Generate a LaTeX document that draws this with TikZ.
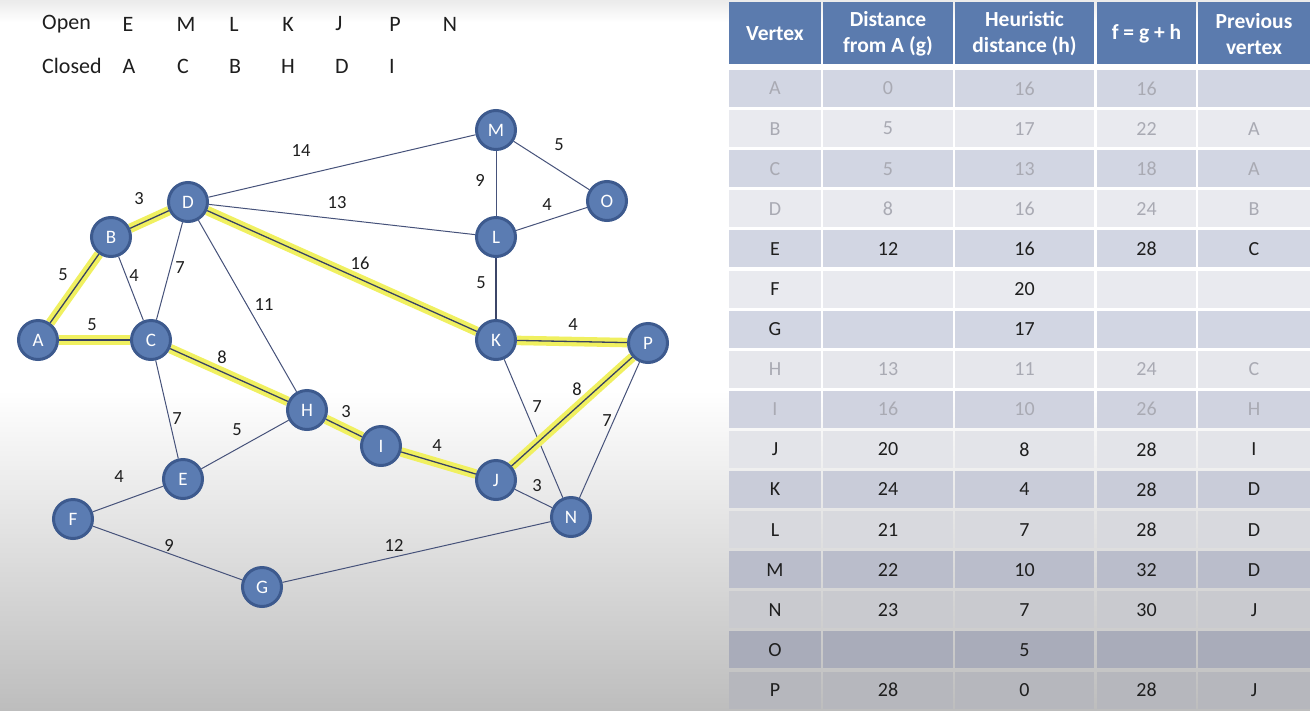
\documentclass[tikz,border=0pt]{standalone}
\usepackage{fontspec}
\setmainfont{Carlito}
\definecolor{nodefill}{HTML}{5B7CB2}
\definecolor{nodeline}{HTML}{3D5A8E}
\definecolor{edgecol}{HTML}{46527A}
\definecolor{hlyellow}{HTML}{F0F060}
\definecolor{headfill}{HTML}{5B7BAE}
\definecolor{graybot}{HTML}{BDBDBD}
\definecolor{txtdark}{HTML}{1E1E1E}
\definecolor{txtgray}{HTML}{A9AAB3}
\pgfdeclarelayer{bglayer}
\pgfdeclarelayer{edgelayer}
\pgfsetlayers{bglayer,edgelayer,main}
\newcommand{\tabrow}[8]{%
  \definecolor{rowfill}{HTML}{#7}%
  \pgfmathsetmacro{\rowtop}{70+40.1*#1}%
  \pgfmathsetmacro{\rowbot}{\rowtop+37}%
  \pgfmathsetmacro{\rowmid}{\rowtop+18.5}%
  \fill[rowfill] (729,\rowtop) rectangle (821,\rowbot);
  \fill[rowfill] (823,\rowtop) rectangle (953,\rowbot);
  \fill[rowfill] (955,\rowtop) rectangle (1094,\rowbot);
  \fill[rowfill] (1097,\rowtop) rectangle (1196,\rowbot);
  \fill[rowfill] (1198,\rowtop) rectangle (1310,\rowbot);
  \node[cell,text=#8] (tv#2) at (775,\rowmid) {#2};
  \node[cell,text=#8] (tg#2) at (888,\rowmid) {#3};
  \node[cell,text=#8] (th#2) at (1024.5,\rowmid) {#4};
  \node[cell,text=#8] (tf#2) at (1146.5,\rowmid) {#5};
  \node[cell,text=#8] (tp#2) at (1254,\rowmid) {#6};
}
\begin{document}
\begin{tikzpicture}[x=1pt,y=-1pt,
  vtx/.style={circle,minimum size=39pt,inner sep=0pt,fill=nodefill,draw=nodeline,line width=3pt,text=white,font=\fontsize{19}{19}\selectfont},
  plain/.style={draw=edgecol,line width=1pt},
  hl/.style={draw=edgecol!80!black,line width=1.3pt,preaction={draw=hlyellow,line width=9.5pt}},
  lbl/.style={inner sep=0pt,text=txtdark,font=\fontsize{18.5}{18.5}\selectfont},
  toptxt/.style={inner sep=0pt,text=txtdark,font=\fontsize{22}{22}\selectfont},
  cell/.style={inner sep=0pt,font=\fontsize{20}{20}\selectfont},
  head/.style={inner sep=0pt,text=white,align=center,font=\bfseries\fontsize{21.5}{26}\selectfont}]
\useasboundingbox (0,0) rectangle (1310,710);
\begin{pgfonlayer}{bglayer}
\fill[white] (0,0) rectangle (1310,710);
\shade[top color=white,bottom color=graybot] (0,390) rectangle (1310,710);
\shade[top color=black!8,bottom color=white] (0,0) rectangle (1310,22);
\end{pgfonlayer}
% open / closed lists
\node[toptxt,anchor=west] (open) at (42,24) {Open};
\node[toptxt] (o1) at (128,24) {E};
\node[toptxt] (o2) at (186,24) {M};
\node[toptxt] (o3) at (234,24) {L};
\node[toptxt] (o4) at (288,24) {K};
\node[toptxt] (o5) at (339,24) {J};
\node[toptxt] (o6) at (395,24) {P};
\node[toptxt] (o7) at (450,24) {N};
\node[toptxt,anchor=west] (closed) at (42,66) {Closed};
\node[toptxt] (c1) at (129,66) {A};
\node[toptxt] (c2) at (183,66) {C};
\node[toptxt] (c3) at (235,66) {B};
\node[toptxt] (c4) at (288,66) {H};
\node[toptxt] (c5) at (342,66) {D};
\node[toptxt] (c6) at (392,66) {I};
% vertices
\node[vtx] (A) at (38,340) {A};
\node[vtx] (B) at (111,237) {B};
\node[vtx] (C) at (151,340) {C};
\node[vtx] (D) at (188,202) {D};
\node[vtx] (E) at (183,479) {E};
\node[vtx] (F) at (73,519) {F};
\node[vtx] (G) at (262,587) {G};
\node[vtx] (H) at (307,410) {H};
\node[vtx] (I) at (381,446) {I};
\node[vtx] (J) at (496,480) {J};
\node[vtx] (K) at (496,340) {K};
\node[vtx] (L) at (496,237) {L};
\node[vtx] (M) at (496,130) {M};
\node[vtx] (N) at (571,517) {N};
\node[vtx] (O) at (607,201) {O};
\node[vtx] (P) at (648,343) {P};
% edges
\begin{pgfonlayer}{edgelayer}
\draw[plain] (D) -- (M);
\draw[plain] (D) -- (L);
\draw[plain] (M) -- (L);
\draw[plain] (M) -- (O);
\draw[plain] (L) -- (O);
\draw[plain,line width=1.6pt,draw=edgecol!85!black] (L) -- (K);
\draw[plain] (B) -- (C);
\draw[plain] (D) -- (C);
\draw[plain] (D) -- (H);
\draw[plain] (C) -- (E);
\draw[plain] (E) -- (H);
\draw[plain] (E) -- (F);
\draw[plain] (F) -- (G);
\draw[plain] (G) -- (N);
\draw[plain] (K) -- (N);
\draw[plain] (P) -- (N);
\draw[plain] (J) -- (N);
\draw[hl] (A) -- (B);
\draw[hl] (B) -- (D);
\draw[hl] (A) -- (C);
\draw[hl] (C) -- (H);
\draw[hl] (D) -- (K);
\draw[hl] (H) -- (I);
\draw[hl] (I) -- (J);
\draw[hl] (J) -- (P);
\draw[hl] (K) -- (P);
\end{pgfonlayer}
% edge weights
\node[lbl] (wBD) at (139,199) {3};
\node[lbl] (wDM) at (301,151) {14};
\node[lbl] (wMO) at (559,145) {5};
\node[lbl] (wML) at (480,180) {9};
\node[lbl] (wDL) at (337,203) {13};
\node[lbl] (wLO) at (547,205) {4};
\node[lbl] (wDK) at (360,263) {16};
\node[lbl] (wAB) at (63,275) {5};
\node[lbl] (wBC) at (134,276) {4};
\node[lbl] (wDC) at (180,268) {7};
\node[lbl] (wDH) at (264,305) {11};
\node[lbl] (wLK) at (481,283) {5};
\node[lbl] (wAC) at (92,325) {5};
\node[lbl] (wKP) at (573,325) {4};
\node[lbl] (wCH) at (222,357) {8};
\node[lbl] (wCE) at (177,419) {7};
\node[lbl] (wEH) at (237,430) {5};
\node[lbl] (wHI) at (346,412) {3};
\node[lbl] (wIJ) at (437,446) {4};
\node[lbl] (wJP) at (577,389) {8};
\node[lbl] (wKN) at (537,407) {7};
\node[lbl] (wPN) at (607,421) {7};
\node[lbl] (wJN) at (537,486) {3};
\node[lbl] (wEF) at (119,477) {4};
\node[lbl] (wFG) at (169,545) {9};
\node[lbl] (wGN) at (394,545) {12};
% table header
\fill[headfill] (729,2) rectangle (821,64);
\fill[headfill] (823,2) rectangle (953,64);
\fill[headfill] (955,2) rectangle (1094,64);
\fill[headfill] (1097,2) rectangle (1196,64);
\fill[headfill] (1198,2) rectangle (1310,64);
\node[head] (h1) at (775,34) {Vertex};
\node[head] (h2) at (888,34) {Distance\\from A (g)};
\node[head] (h3) at (1024.5,34) {Heuristic\\distance (h)};
\node[head] (h4) at (1146.5,34) {f = g + h};
\node[head] (h5) at (1254,34) {Previous\\vertex};
% table rows
\tabrow{0}{A}{0}{16}{16}{}{D2D6E3}{txtgray}
\tabrow{1}{B}{5}{17}{22}{A}{E9EAEF}{txtgray}
\tabrow{2}{C}{5}{13}{18}{A}{D2D6E3}{txtgray}
\tabrow{3}{D}{8}{16}{24}{B}{E9EAEF}{txtgray}
\tabrow{4}{E}{12}{16}{28}{C}{D2D6E3}{txtdark}
\tabrow{5}{F}{}{20}{}{}{E9EAEF}{txtdark}
\tabrow{6}{G}{}{17}{}{}{D2D6E3}{txtdark}
\tabrow{7}{H}{13}{11}{24}{C}{E6E7EC}{txtgray}
\tabrow{8}{I}{16}{10}{26}{H}{D0D3E0}{txtgray}
\tabrow{9}{J}{20}{8}{28}{I}{E3E4E9}{txtdark}
\tabrow{10}{K}{24}{4}{28}{D}{C9CCD9}{txtdark}
\tabrow{11}{L}{21}{7}{28}{D}{D8D9DE}{txtdark}
\tabrow{12}{M}{22}{10}{32}{D}{BABDCB}{txtdark}
\tabrow{13}{N}{23}{7}{30}{J}{C9CACF}{txtdark}
\tabrow{14}{O}{}{5}{}{}{A9ACBA}{txtdark}
\tabrow{15}{P}{28}{0}{28}{J}{B6B7BD}{txtdark}
\end{tikzpicture}
\end{document}
